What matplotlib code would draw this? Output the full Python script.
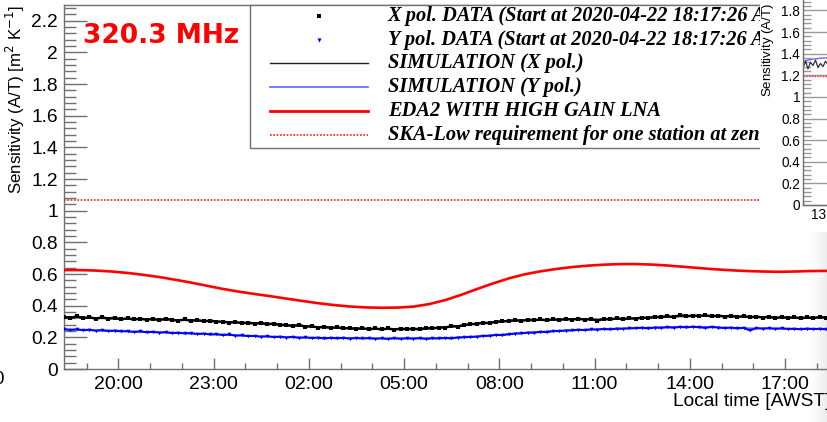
import numpy as np
import matplotlib
matplotlib.use("Agg")
import matplotlib.pyplot as plt
from matplotlib.patches import Rectangle
from matplotlib.lines import Line2D
from matplotlib.transforms import Bbox, TransformedBbox
from matplotlib.ticker import MultipleLocator, FixedLocator, FuncFormatter

# ---------------- data ----------------
start_hour = 18.29          # 18:17:26 AWST (hours, continuing past 24 for next day)
data_step = 0.2             # hours between plotted samples
model_step = 1.0
eda2_step = 0.5

x_pol_data = [
    0.330, 0.322, 0.333, 0.321, 0.327, 0.318, 0.326, 0.319, 0.323, 0.314,
    0.320, 0.313, 0.318, 0.311, 0.317, 0.309, 0.318, 0.310, 0.306, 0.313,
    0.305, 0.310, 0.301, 0.306, 0.299, 0.300, 0.293, 0.297, 0.290, 0.293,
    0.286, 0.291, 0.283, 0.287, 0.279, 0.277, 0.272, 0.278, 0.268, 0.270,
    0.262, 0.267, 0.259, 0.264, 0.256, 0.259, 0.253, 0.258, 0.251, 0.256,
    0.250, 0.256, 0.249, 0.255, 0.251, 0.255, 0.250, 0.258, 0.256, 0.262,
    0.262, 0.270, 0.268, 0.278, 0.283, 0.286, 0.292, 0.290, 0.299, 0.301,
    0.303, 0.309, 0.304, 0.311, 0.308, 0.313, 0.307, 0.314, 0.310, 0.316,
    0.312, 0.318, 0.311, 0.316, 0.305, 0.317, 0.313, 0.320, 0.315, 0.321,
    0.318, 0.325, 0.322, 0.330, 0.327, 0.334, 0.328, 0.341, 0.333, 0.338,
    0.335, 0.340, 0.332, 0.338, 0.331, 0.336, 0.329, 0.334, 0.327, 0.331,
    0.325, 0.330, 0.322, 0.328, 0.323, 0.327, 0.320, 0.326, 0.322, 0.328,
    0.324, 0.329, 0.323,
]
y_pol_data = [
    0.252, 0.247, 0.251, 0.245, 0.248, 0.242, 0.246, 0.240, 0.243, 0.238,
    0.239, 0.234, 0.238, 0.232, 0.235, 0.230, 0.233, 0.227, 0.229, 0.225,
    0.226, 0.221, 0.224, 0.218, 0.220, 0.215, 0.218, 0.211, 0.213, 0.208,
    0.209, 0.204, 0.207, 0.202, 0.204, 0.199, 0.203, 0.197, 0.200, 0.196,
    0.198, 0.193, 0.197, 0.194, 0.197, 0.192, 0.196, 0.193, 0.195, 0.191,
    0.194, 0.190, 0.195, 0.191, 0.194, 0.192, 0.195, 0.190, 0.194, 0.193,
    0.196, 0.193, 0.199, 0.200, 0.203, 0.204, 0.209, 0.210, 0.215, 0.214,
    0.219, 0.224, 0.225, 0.230, 0.229, 0.235, 0.233, 0.239, 0.240, 0.243,
    0.244, 0.248, 0.246, 0.250, 0.249, 0.253, 0.250, 0.255, 0.254, 0.257,
    0.258, 0.261, 0.256, 0.262, 0.260, 0.264, 0.261, 0.266, 0.263, 0.267,
    0.264, 0.260, 0.266, 0.262, 0.259, 0.261, 0.257, 0.260, 0.244, 0.258,
    0.255, 0.258, 0.254, 0.257, 0.253, 0.254, 0.251, 0.255, 0.252, 0.254,
    0.251, 0.254, 0.250,
]
sim_x = [0.325, 0.320, 0.316, 0.312, 0.306, 0.298, 0.288, 0.276, 0.264, 0.257,
         0.253, 0.254, 0.265, 0.287, 0.304, 0.311, 0.314, 0.316, 0.319, 0.328,
         0.334, 0.332, 0.327, 0.324, 0.325, 0.326]
sim_y = [0.250, 0.243, 0.237, 0.231, 0.224, 0.216, 0.207, 0.201, 0.197, 0.195,
         0.193, 0.193, 0.196, 0.206, 0.221, 0.236, 0.246, 0.253, 0.259, 0.265,
         0.266, 0.261, 0.257, 0.254, 0.253, 0.253]
eda2_hg = [
    0.625, 0.625, 0.622, 0.616, 0.607, 0.595, 0.581, 0.564, 0.546, 0.526,
    0.506, 0.489, 0.474, 0.460, 0.445, 0.430, 0.416, 0.404, 0.395, 0.389,
    0.387, 0.388, 0.394, 0.410, 0.435, 0.468, 0.505, 0.540, 0.572, 0.598,
    0.617, 0.632, 0.644, 0.653, 0.659, 0.663, 0.663, 0.660, 0.654, 0.646,
    0.638, 0.630, 0.624, 0.619, 0.616, 0.614, 0.616, 0.619, 0.620, 0.620,
]
ska_requirement = 1.07
freq_label = "320.3 MHz"

major_hours = [20, 23, 26, 29, 32, 35, 38, 41]
major_labels = ["20:00", "23:00", "02:00", "05:00", "08:00", "11:00", "14:00", "17:00"]

legend_labels = [
    "X pol. DATA (Start at 2020-04-22 18:17:26 AWST)",
    "Y pol. DATA (Start at 2020-04-22 18:17:26 AWST)",
    "SIMULATION (X pol.)",
    "SIMULATION (Y pol.)",
    "EDA2 WITH HIGH GAIN LNA",
    "SKA-Low requirement for one station at zenith",
]

# inset (neighbouring panel, mostly cut off)
inset_start = 12.0
inset_x_pol = [1.27, 1.33, 1.26, 1.32, 1.29, 1.34, 1.27, 1.31, 1.28, 1.33, 1.30, 1.28]
inset_sim_y = [1.33, 1.34, 1.35, 1.355, 1.36, 1.36, 1.365]
inset_requirement = 1.19
inset_major_hours = [13, 16, 19, 22]
inset_major_labels = ["13:00", "16:00", "19:00", "22:00"]

# ---------------- figure ----------------
W, H = 827, 422
plt.rcParams["font.family"] = ["Liberation Sans", "DejaVu Sans"]
fig = plt.figure(figsize=(W / 100, H / 100), dpi=100)
fig.patch.set_facecolor("white")


def fx(px):
    return px / W


def fy(py):
    return 1 - py / H


SPINE = "#707070"
PX = 0.72  # points per pixel

# faint shading at the lower right edge (behind the plot)
bg = fig.add_axes([fx(806), 0, 1 - fx(806), fy(232)], zorder=-5)
grad = np.linspace(0, 1, 64)[None, :] ** 1.6
bg.imshow(grad, cmap="Greys", vmin=0, vmax=6.5, aspect="auto", extent=[0, 1, 0, 1])
bg.set_axis_off()

x_lo, x_hi = 18.29, 42.79
ax = fig.add_axes([fx(64), fy(369), fx(778), (369 - 5) / H])
ax.set_facecolor("none")
ax.set_xlim(x_lo, x_hi)
ax.set_ylim(0, 2.3)

t_data = start_hour + data_step * np.arange(len(x_pol_data))
t_model = start_hour + model_step * np.arange(len(sim_x))
t_eda2 = start_hour + eda2_step * np.arange(len(eda2_hg))

ax.plot(t_model, sim_x, color="#505050", lw=1.0, zorder=2)
ax.plot(t_model, sim_y, color="#6464ff", lw=1.0, zorder=2)
ax.plot(t_data, y_pol_data, color="blue", lw=1.5, marker="v", ms=2.6, mew=0, zorder=3)
ax.plot(t_data, x_pol_data, color="black", lw=1.8, marker="s", ms=2.2, mew=0, zorder=4)
ax.plot(t_eda2, eda2_hg, color="#ff0000", lw=1.9, zorder=5)
ax.axhline(ska_requirement, color="#ff2020", lw=1.2, ls=(0, (1, 1)), zorder=5)

for s in ax.spines.values():
    s.set_color(SPINE)
    s.set_linewidth(1.0)

ax.yaxis.set_major_locator(MultipleLocator(0.2))
ax.yaxis.set_minor_locator(MultipleLocator(0.04))
ax.yaxis.set_major_formatter(FuncFormatter(lambda v, p: format(round(v, 2), "g")))
ax.xaxis.set_major_locator(FixedLocator(major_hours))
ax.set_xticklabels(major_labels)
ax.xaxis.set_minor_locator(MultipleLocator(1.0))

ax.tick_params(axis="y", which="major", direction="in", length=23 * PX, width=1,
               color=SPINE, labelsize=13.8, pad=6 * PX)
ax.tick_params(axis="y", which="minor", direction="in", length=12 * PX, width=1, color=SPINE)
ax.tick_params(axis="x", which="major", direction="in", length=11 * PX, width=1,
               color=SPINE, labelsize=14, pad=7 * PX)
ax.tick_params(axis="x", which="minor", direction="in", length=6 * PX, width=1, color=SPINE)

fig.text(fx(15), fy(5), "Sensitivity (A/T) [m$^{2}$ K$^{-1}$]", rotation=90,
         ha="center", va="top", fontsize=12.2)
fig.text(fx(830), fy(401), "Local time [AWST]", ha="right", va="center", fontsize=13.8)
fig.text(fx(83), fy(36), freq_label, ha="left", va="center", fontsize=19,
         fontweight="bold", color="#ff0000", family="DejaVu Sans")
fig.text(fx(4), fy(380), "0", ha="right", va="center", fontsize=13.5)

# ---------------- legend (ROOT TLegend style) ----------------
fig.add_artist(Rectangle((fx(250), fy(148)), fx(700), (148 - 5) / H,
                         transform=fig.transFigure, facecolor="white",
                         edgecolor=SPINE, lw=1.0, zorder=3))
rows = [16, 40, 63, 87, 111, 135]
fig.add_artist(Line2D([fx(319)], [fy(rows[0])], transform=fig.transFigure,
                      marker="s", ms=2.2, mew=0, color="black", ls="none", zorder=4))
fig.add_artist(Line2D([fx(319)], [fy(rows[1])], transform=fig.transFigure,
                      marker="v", ms=3.0, mew=0, color="blue", ls="none", zorder=4))
line_styles = [
    dict(color="#202020", lw=1.0, ls="-"),
    dict(color="#6464ff", lw=1.2, ls="-"),
    dict(color="#ff0000", lw=2.0, ls="-"),
    dict(color="#ff2020", lw=1.2, ls=(0, (1, 1))),
]
for r, st in zip(rows[2:], line_styles):
    fig.add_artist(Line2D([fx(270), fx(368)], [fy(r), fy(r)],
                          transform=fig.transFigure, zorder=4, **st))
legend_clip = TransformedBbox(Bbox([[0, 0], [fx(760), 1]]), fig.transFigure)
for r, lab in zip(rows, legend_labels):
    t = fig.text(fx(388), fy(r), lab, ha="left", va="center", fontsize=14.7,
                 family="Liberation Serif", fontweight="bold", fontstyle="italic", zorder=4)
    t.set_clip_box(legend_clip)
    t.set_clip_on(True)

# ---------------- neighbouring inset pad (covers the right part) ----------------
fig.add_artist(Rectangle((fx(760), fy(225)), 1 - fx(760), 225 / H,
                         transform=fig.transFigure, facecolor="white",
                         edgecolor="none", zorder=10))
ins = fig.add_axes([fx(803), fy(205), fx(300), (205 + 22) / H], zorder=12)
ins.set_facecolor("none")
ins.set_xlim(12.0, 24.0)
ins.set_ylim(0, 2.1)
t_in = inset_start + 0.1 * np.arange(len(inset_x_pol))
t_in_sim = inset_start + 0.2 * np.arange(len(inset_sim_y))
ins.plot(t_in_sim, inset_sim_y, color="#6464ff", lw=1.0)
ins.plot(t_in, inset_x_pol, color="#303030", lw=0.9)
ins.axhline(inset_requirement, color="#ff2020", lw=1.0, ls=(0, (1, 1)))
for s in ins.spines.values():
    s.set_color(SPINE)
    s.set_linewidth(1.0)
ins.yaxis.set_major_locator(MultipleLocator(0.2))
ins.yaxis.set_minor_locator(MultipleLocator(0.04))
ins.yaxis.set_major_formatter(FuncFormatter(lambda v, p: format(round(v, 2), "g")))
ins.xaxis.set_major_locator(FixedLocator(inset_major_hours))
ins.set_xticklabels(inset_major_labels)
ins.xaxis.set_minor_locator(MultipleLocator(1.0))
ins.tick_params(axis="y", which="major", direction="in", length=24 * PX, width=1,
                color="#999999", labelsize=9.8, pad=3 * PX)
ins.tick_params(axis="y", which="minor", direction="in", length=8 * PX, width=1, color="#999999")
ins.tick_params(axis="x", which="major", direction="in", length=8 * PX, width=1,
                color="#999999", labelsize=9.8, pad=3 * PX)
ins.tick_params(axis="x", which="minor", direction="in", length=4 * PX, width=1, color="#999999")
fig.text(fx(768), fy(97), "Sensitivity (A/T) [m$^{2}$ K$^{-1}$]", rotation=90,
         ha="center", va="bottom", fontsize=9.5, zorder=13)

fig.savefig("out.png", dpi=100)
